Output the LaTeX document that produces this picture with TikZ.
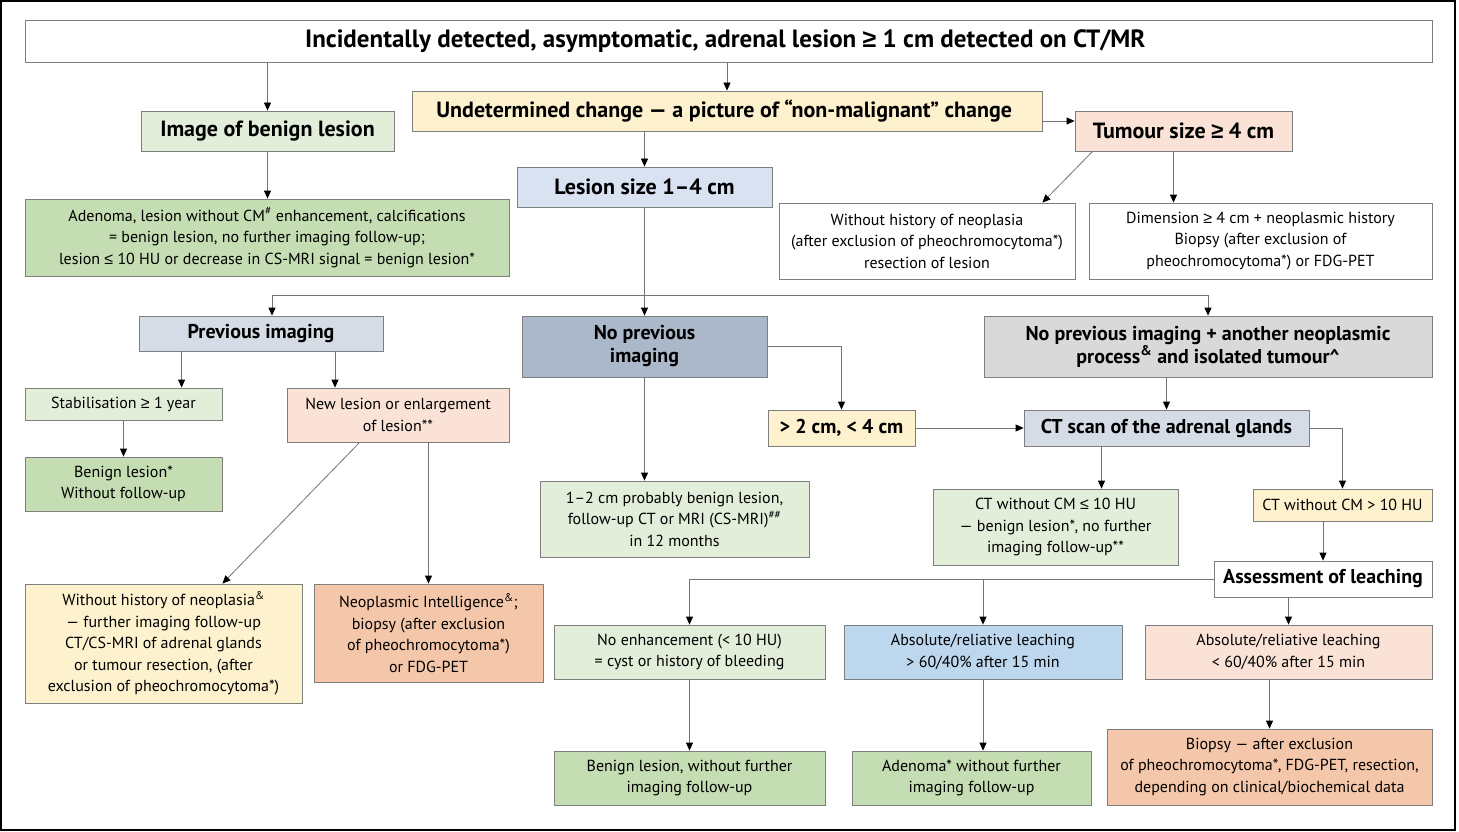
\documentclass[tikz,border=0pt]{standalone}
\usepackage{fontspec}
\setmainfont{PT Sans}
\newfontfamily\relfont{Liberation Sans}
\newcommand\relge{{\relfont ≥}}
\newcommand\relle{{\relfont ≤}}
\usepackage{xcolor}
\usepackage{tikz}
\usetikzlibrary{
arrows.meta,
calc
}

\definecolor{boxgray}{HTML}{7F7F7F}
\definecolor{linegray}{HTML}{737373}
\definecolor{lgreen}{HTML}{E2EEDA}
\definecolor{dgreen}{HTML}{C5DDB2}
\definecolor{lyellow}{HTML}{FDF1CE}
\definecolor{lpeach}{HTML}{FAE3D6}
\definecolor{salmon}{HTML}{F5C7AA}
\definecolor{lblue}{HTML}{D9E2F1}
\definecolor{bluegray}{HTML}{D6DCE5}
\definecolor{dbluegray}{HTML}{ABB8CA}
\definecolor{lgray}{HTML}{D9D9D9}
\definecolor{skyblue}{HTML}{BDD7EE}

\begin{document}
\begin{tikzpicture}[
x=1pt,y=-1pt,
box/.style={
draw=boxgray,
line width=0.8pt,
align=center,
inner sep=1pt,
font=\fontsize{16}{21.5}\selectfont
},
head/.style={
box,
font=\fontsize{20}{23}\selectfont\bfseries
},
bighead/.style={
box,
font=\fontsize{22}{25}\selectfont\bfseries
},
wh/.style 2 args={minimum width=#1,minimum height=#2},
arrow/.style={-{Triangle[length=8pt,width=7pt,color=black]},draw=linegray,line width=0.8pt},
line/.style={draw=linegray,line width=0.8pt}
]

\useasboundingbox (0,0) rectangle (1459,832);
\draw[line width=1.2pt] (1,1) rectangle (1455,830);

\node[box,wh={1407}{42},font=\fontsize{25}{28}\selectfont\bfseries] (title) at (728.5,41) {
Incidentally detected, asymptomatic, adrenal lesion \relge{} 1 cm detected on CT/MR
};

\node[bighead,fill=lgreen,wh={253}{40}] (benign) at (267.5,131) {Image of benign lesion};
\node[bighead,fill=lyellow,wh={630}{40}] (undet) at (727,111) {
Undetermined change — a picture of “non-malignant” change
};
\node[bighead,fill=lpeach,wh={217}{40}] (tumour) at (1183.5,131) {Tumour size \relge{} 4 cm};
\node[bighead,fill=lblue,wh={255}{40}] (lsize) at (644.5,187) {Lesion size 1–4 cm};

\node[box,fill=dgreen,wh={484}{77}] (adenoma) at (267,237.5) {
Adenoma, lesion without CM\textsuperscript{\#} enhancement, calcifications\\
= benign lesion, no further imaging follow-up;\\
lesion \relle{} 10 HU or decrease in CS-MRI signal = benign lesion*
};
\node[box,wh={296}{76}] (nohist) at (927,241) {
Without history of neoplasia\\
(after exclusion of pheochromocytoma*)\\
resection of lesion
};
\node[box,wh={343}{76}] (dim) at (1260.5,241) {
Dimension \relge{} 4 cm + neoplasmic history\\
Biopsy (after exclusion of\\
pheochromocytoma*) or FDG-PET
};

\node[head,fill=bluegray,wh={244}{35}] (prev) at (261,333.5) {Previous imaging};
\node[head,fill=dbluegray,wh={245}{61}] (noprev) at (644.5,346.5) {
No previous\\
imaging
};
\node[head,fill=lgray,wh={448}{61}] (noprevplus) at (1208,346.5) {
No previous imaging + another neoplasmic\\
process\textsuperscript{\&} and isolated tumour\textasciicircum
};

\node[box,fill=lgreen,wh={197}{32}] (stab) at (123.5,404) {Stabilisation \relge{} 1 year};
\node[box,fill=lpeach,wh={222}{54}] (newles) at (398,415) {
New lesion or enlargement\\
of lesion**
};
\node[box,fill=dgreen,wh={197}{54}] (benignfu) at (123.5,484) {
Benign lesion*\\
Without follow-up
};

\node[head,fill=lyellow,wh={147}{36}] (mid) at (841.5,428) {> 2 cm, < 4 cm};
\node[head,fill=bluegray,wh={285}{36}] (ctscan) at (1166.5,428) {CT scan of the adrenal glands};

\node[box,fill=lgreen,wh={269}{76}] (onetwo) at (674.5,519) {
1–2 cm probably benign lesion,\\
follow-up CT or MRI (CS-MRI)\textsuperscript{\#\#}\\
in 12 months
};
\node[box,fill=lgreen,wh={245}{76}] (ctlow) at (1055.5,527) {
CT without CM \relle{} 10 HU\\
— benign lesion*, no further\\
imaging follow-up**
};
\node[box,fill=lyellow,wh={179}{32}] (cthigh) at (1342.5,505) {CT without CM > 10 HU};
\node[head,wh={218}{36}] (assess) at (1323,579) {Assessment of leaching};

\node[box,fill=lgreen,wh={271}{54}] (noenh) at (689.5,652) {
No enhancement (< 10 HU)\\
= cyst or history of bleeding
};
\node[box,fill=skyblue,wh={278}{54}] (washhi) at (983,652) {
Absolute/reliative leaching\\
> 60/40\% after 15 min
};
\node[box,fill=lpeach,wh={287}{54}] (washlo) at (1288.5,652) {
Absolute/reliative leaching\\
< 60/40\% after 15 min
};

\node[box,fill=dgreen,wh={271}{54}] (cyst) at (689.5,778) {
Benign lesion, without further\\
imaging follow-up
};
\node[box,fill=dgreen,wh={239}{54}] (adenfu) at (971.5,778) {
Adenoma* without further\\
imaging follow-up
};
\node[box,fill=salmon,wh={325}{76}] (biopsy) at (1269.5,767) {
Biopsy — after exclusion\\
of pheochromocytoma*, FDG-PET, resection,\\
depending on clinical/biochemical data
};

\node[box,fill=lyellow,wh={277}{119}] (noneo) at (163.5,643.5) {
Without history of neoplasia\textsuperscript{\&}\\
— further imaging follow-up\\
CT/CS-MRI of adrenal glands\\
or tumour resection, (after\\
exclusion of pheochromocytoma*)
};
\node[box,fill=salmon,wh={229}{98}] (neoint) at (428.5,633) {
Neoplasmic Intelligence\textsuperscript{\&};\\
biopsy (after exclusion\\
of pheochromocytoma*)\\
or FDG-PET
};

\coordinate (split) at (644.5,295);
\coordinate (leach) at (983,579);

\draw[arrow] (title.south -| benign.north) -- (benign.north);
\draw[arrow] (title.south -| undet.north) -- (undet.north);
\draw[arrow] (benign.south) -- (benign.south |- adenoma.north);
\draw[arrow] ([yshift=-10pt]undet.east) -- ([yshift=-10pt]undet.east -| tumour.west);
\draw[arrow] (undet.south -| lsize.north) -- (lsize.north);
\draw[arrow] ([xshift=18pt]tumour.south west) -- ([xshift=-33pt]nohist.north east);
\draw[arrow] ([xshift=-10pt]tumour.south) -- ([xshift=-10pt]tumour.south |- dim.north);

\draw[line] (lsize.south) -- (split);
\draw[arrow] (split) -| ([xshift=11pt]prev.north);
\draw[arrow] (split) -| (noprevplus.north);
\draw[arrow] (split) -- (noprev.north);

\draw[arrow] ([xshift=43pt]prev.south west) -- ([xshift=43pt]prev.south west |- stab.north);
\draw[arrow] ([xshift=74pt]prev.south) -- ([xshift=74pt]prev.south |- newles.north);
\draw[arrow] (stab.south) -- (benignfu.north);
\draw[arrow] ([xshift=73pt]newles.south west) -- ([xshift=-80pt]noneo.north east);
\draw[arrow] (newles.south -| neoint.north) -- (neoint.north);

\draw[arrow] (noprev.south) -- (noprev.south |- onetwo.north);
\draw[arrow] (noprev.east) -| (mid.north);
\draw[arrow] (mid.east) -- (ctscan.west);
\draw[arrow] (noprevplus.south -| ctscan.north) -- (ctscan.north);
\draw[arrow] ([xshift=-65pt]ctscan.south) -- ([xshift=-65pt]ctscan.south |- ctlow.north);
\draw[arrow] (ctscan.east) -| (cthigh.north);
\draw[arrow] (cthigh.south -| assess.north) -- (assess.north);

\draw[arrow] (assess.west) -| (noenh.north);
\draw[arrow] (leach) -- (washhi.north);
\draw[arrow] (assess.south -| washlo.north) -- (washlo.north);
\draw[arrow] (noenh.south) -- (cyst.north);
\draw[arrow] (washhi.south) -- (washhi.south |- adenfu.north);
\draw[arrow] (biopsy.north |- washlo.south) -- (biopsy.north);

\end{tikzpicture}
\end{document}
